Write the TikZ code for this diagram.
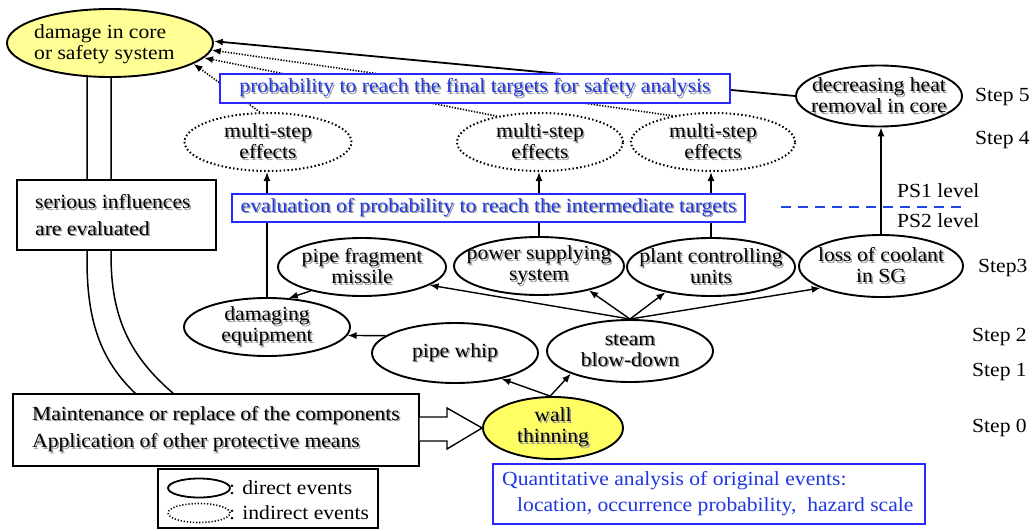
\documentclass[tikz,border=0pt]{standalone}
\usepackage{fontspec}
\setmainfont{Liberation Serif}[FakeStretch=1.08]
\usetikzlibrary{shapes.geometric,arrows.meta}
\pgfdeclarelayer{bg}
\pgfsetlayers{bg,main}
\definecolor{bluet}{RGB}{30,55,225}
\definecolor{blueb}{RGB}{40,40,255}
\definecolor{blued}{RGB}{30,70,230}
\definecolor{ylight}{RGB}{255,255,150}
\definecolor{ywall}{RGB}{255,255,100}
\newcommand\sh[1]{\leavevmode\rlap{\kern1.5pt\raisebox{-1.5pt}{\textcolor{black!40}{#1}}}#1}
\begin{document}
\begin{tikzpicture}[x=1pt,y=-1pt,
  every node/.style={font=\fontsize{20}{21}\selectfont},
  ev/.style={ellipse, draw, line width=1.9pt, fill=white, inner sep=0pt},
  iev/.style={ellipse, draw, line width=2pt, dash pattern=on 1.5pt off 2.4pt, fill=white, inner sep=0pt},
  etxt/.style={align=center, inner sep=0pt},
  ltxt/.style={anchor=west, align=left, inner sep=0pt},
  stp/.style={anchor=west, inner sep=0pt},
  bbox/.style={draw=blueb, line width=1.4pt, fill=white, inner sep=0pt},
  kbox/.style={draw, line width=1.4pt, fill=white, inner sep=0pt},
  arr/.style={-{Latex[length=9pt,width=7pt]}, line width=1.4pt},
  darr/.style={-{Latex[length=9pt,width=7pt]}, line width=1.6pt, dash pattern=on 1.3pt off 1.5pt},
]
\useasboundingbox (0,0) rectangle (1035,530);

% ellipses
\node[ev, fill=ylight, minimum width=206pt, minimum height=68pt] (dmg) at (110,43) {};
\node[ltxt] (dmgt) at (34,44) {damage in core\\or safety system};

\node[ev, minimum width=166pt, minimum height=61pt] (heat) at (879,96) {};
\node[etxt] (heatt) at (heat) {\sh{decreasing heat}\\\sh{removal in core}};

\node[iev, minimum width=167pt, minimum height=58pt] (msL) at (268,142) {};
\node[etxt] (msLt) at (msL) {\sh{multi-step}\\\sh{effects}};
\node[iev, minimum width=166pt, minimum height=58pt] (msM) at (540,142) {};
\node[etxt] (msMt) at (msM) {\sh{multi-step}\\\sh{effects}};
\node[iev, minimum width=164pt, minimum height=58pt] (msR) at (713,142) {};
\node[etxt] (msRt) at (msR) {\sh{multi-step}\\\sh{effects}};

\node[ev, minimum width=168pt, minimum height=58pt] (frag) at (362,267) {};
\node[etxt] (fragt) at (frag) {\sh{pipe fragment}\\\sh{missile}};
\node[ev, minimum width=170pt, minimum height=58pt] (power) at (539,266) {};
\node[etxt] (powert) at (power) {\sh{power supplying}\\\sh{system}};
\node[ev, minimum width=168pt, minimum height=58pt] (plant) at (711,267) {};
\node[etxt] (plantt) at (plant) {\sh{plant controlling}\\\sh{units}};
\node[ev, minimum width=164pt, minimum height=62pt] (loss) at (881,266) {};
\node[etxt] (losst) at (loss) {\sh{loss of coolant}\\\sh{in SG}};

\node[ev, minimum width=166pt, minimum height=58pt] (dmgeq) at (267,327) {};
\node[etxt] (dmgeqt) at (dmgeq) {\sh{damaging}\\\sh{equipment}};
\node[ev, minimum width=166pt, minimum height=60pt] (whip) at (455,353) {};
\node[etxt] (whipt) at (whip) {\sh{pipe whip}};
\node[ev, minimum width=166pt, minimum height=62pt] (steam) at (630,351) {};
\node[etxt] (steamt) at (steam) {\sh{steam}\\\sh{blow-down}};

\node[ev, fill=ywall, minimum width=140pt, minimum height=62pt] (wall) at (553,428) {};
\node[etxt] (wallt) at (wall) {\sh{wall}\\\sh{thinning}};

% boxes
\node[bbox, minimum width=510pt, minimum height=29pt] (final) at (475,88.5) {};
\node[etxt, text=bluet] (finalt) at (final) {\sh{probability to reach the final targets for safety analysis}};
\node[bbox, minimum width=513pt, minimum height=28pt] (inter) at (488.5,208) {};
\node[etxt, text=bluet] (intert) at (inter) {\sh{evaluation of probability to reach the intermediate targets}};

\node[kbox, minimum width=199pt, minimum height=70pt] (ser) at (116.5,215) {};
\node[ltxt, font=\fontsize{20}{26.5}\selectfont] (sert) at (35,216) {\sh{serious influences}\\\sh{are evaluated}};

\node[kbox, minimum width=406pt, minimum height=72pt] (maint) at (216,430) {};
\node[ltxt, font=\fontsize{20}{27.5}\selectfont] (maintt) at (32,430) {\sh{Maintenance or replace of the components}\\\sh{Application of other protective means}};

\node[kbox, minimum width=220pt, minimum height=59pt] (leg) at (268,498.5) {};
\node[ev, line width=1.8pt, minimum width=62pt, minimum height=19pt] (legA) at (199,488) {};
\node[iev, line width=1.6pt, dash pattern=on 1.2pt off 1.9pt, minimum width=62pt, minimum height=19pt] (legB) at (199,513) {};
\node[stp] (legAt) at (229,488) {: direct events};
\node[stp] (legBt) at (229,513) {: indirect events};

\node[bbox, minimum width=432pt, minimum height=60pt] (quant) at (709,494) {};
\node[ltxt, text=bluet, font=\fontsize{20}{26}\selectfont] (quantt) at (502,494) {Quantitative analysis of original events:\\\hspace{15pt}location, occurrence probability,\ \ hazard scale};

% step labels
\node[stp] (s5) at (975,97) {Step 5};
\node[stp] (s4) at (975,140) {Step 4};
\node[stp] (s3) at (978,268) {Step3};
\node[stp] (s2) at (972,337) {Step 2};
\node[stp] (s1) at (972,372) {Step 1};
\node[stp] (s0) at (972,428) {Step 0};
\node[stp] (ps1) at (897,191) {PS1 level};
\node[stp] (ps2) at (897,221) {PS2 level};

% hollow arrow
\draw[line width=1.4pt, fill=white] (maint.east |- 0,417) -- (447,417) -- (447,408) -- (wall.west) -- (447,449) -- (447,441) -- (maint.east |- 0,441);

% connectors
\begin{pgfonlayer}{bg}
\coordinate (d1) at (87,76);
\coordinate (d2) at (111,77);
\coordinate (m1) at (136,394);
\coordinate (m2) at (174,394);
\draw[line width=1.5pt] (d1) -- (87,260) .. controls (87,320) and (100,360) .. (m1);
\draw[line width=1.5pt] (d2) -- (111,255) .. controls (111,315) and (128,355) .. (m2);

\draw[arr, line width=1.8pt] (heat.180) -- (dmg.1);
\draw[darr] (msR.147) -- (dmg.-4);
\draw[darr] (msM.149) -- (dmg.-9);
\draw[darr] (msL.105) -- (dmg.-14);

\draw[arr] (dmgeq.north) -- (dmgeq.north |- msL.south);
\draw[arr] (power.north) -- (power.north |- msM.south);
\draw[arr] (plant.north) -- (plant.north |- msR.south);
\draw[arr] (loss.north) -- (loss.north |- heat.south);

\draw[arr] (frag.205) -- (dmgeq.53);
\draw[arr] (whip.166) -- (dmgeq.-6);
\draw[arr] (steam.north) -- (frag.-15);
\draw[arr] (steam.north) -- (power.-26);
\draw[arr] (steam.north) -- (plant.-151);
\draw[arr] (steam.north) -- (loss.200);
\draw[arr] (wall.95) -- (whip.-29);
\draw[arr] (wall.95) -- (steam.201);

\coordinate (pa) at (781,207);
\coordinate (pb) at (968,207);
\draw[blued, line width=1.6pt, dash pattern=on 10pt off 7pt] (pa) -- (pb);
\end{pgfonlayer}
\end{tikzpicture}
\end{document}
